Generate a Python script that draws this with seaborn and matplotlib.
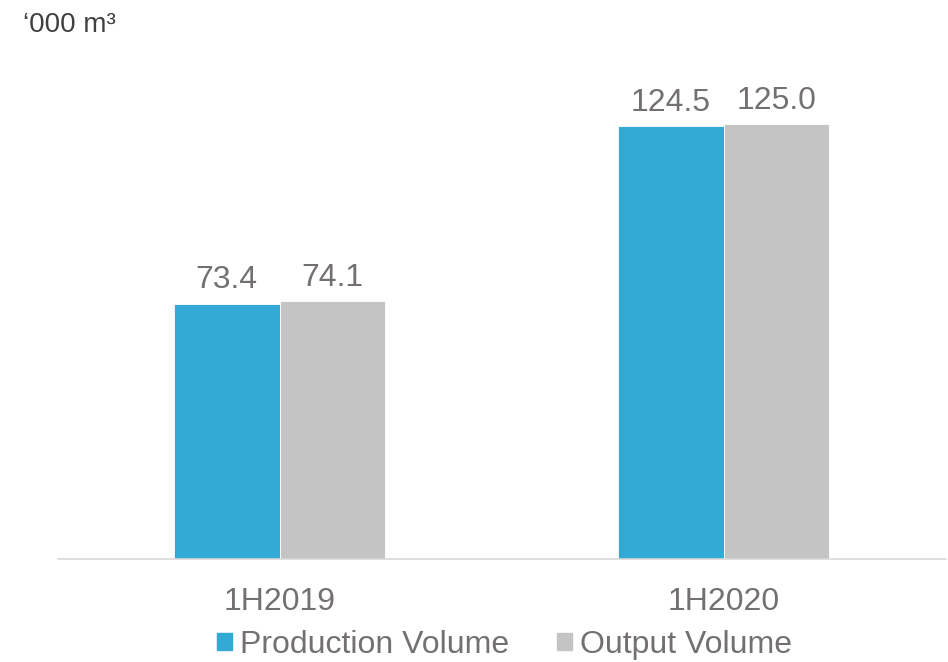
import matplotlib
matplotlib.use("Agg")
import matplotlib.pyplot as plt
import seaborn as sns
import pandas as pd

periods = ["1H2019", "1H2020"]
production_volume = [73.4, 124.5]
output_volume = [74.1, 125.0]
series_names = ["Production Volume", "Output Volume"]
unit_label = "\u2018000 m\u00b3"

df = pd.DataFrame({
    "period": periods * 2,
    "series": [series_names[0]] * len(periods) + [series_names[1]] * len(periods),
    "value": production_volume + output_volume,
})

sns.set_theme(style="white")
plt.rcParams["font.family"] = ["Liberation Sans", "DejaVu Sans"]

text_color = "#757070"
palette = {series_names[0]: "#33A9D6", series_names[1]: "#C4C4C4"}

fig = plt.figure(figsize=(9.48, 6.62), dpi=100)
ax = fig.add_axes([0.0607, 0.1556, 0.9367, 0.7356])

sns.barplot(data=df, x="period", y="value", hue="series", palette=palette,
            width=0.475, gap=0, ax=ax, legend=False, saturation=1,
            edgecolor="white", linewidth=0.6)

for cont in ax.containers:
    ax.bar_label(cont, fmt="%.1f", padding=6, fontsize=23, color=text_color)

ax.set_xlim(-0.5, 1.5)
ax.set_ylim(0, 140)
ax.set_xlabel("")
ax.set_ylabel("")
ax.set_yticks([])
ax.tick_params(axis="x", length=0, labelsize=23, labelcolor=text_color, pad=20)
for side in ["top", "left", "right"]:
    ax.spines[side].set_visible(False)
ax.spines["bottom"].set_color("#D9D9D9")
ax.spines["bottom"].set_linewidth(1.2)

fig.text(0.024, 0.962, unit_label, fontsize=20, color="#404040", va="center", ha="left")

handles = [plt.Rectangle((0, 0), 1, 1, color=palette[s]) for s in series_names]
fig.legend(handles, series_names, loc="center", bbox_to_anchor=(0.532, 0.026),
           ncol=2, frameon=False, fontsize=23, labelcolor=text_color,
           handlelength=0.47, handleheight=0.47, handletextpad=0.25,
           columnspacing=1.5, borderaxespad=0, borderpad=0)

fig.savefig("out.png", dpi=100)
